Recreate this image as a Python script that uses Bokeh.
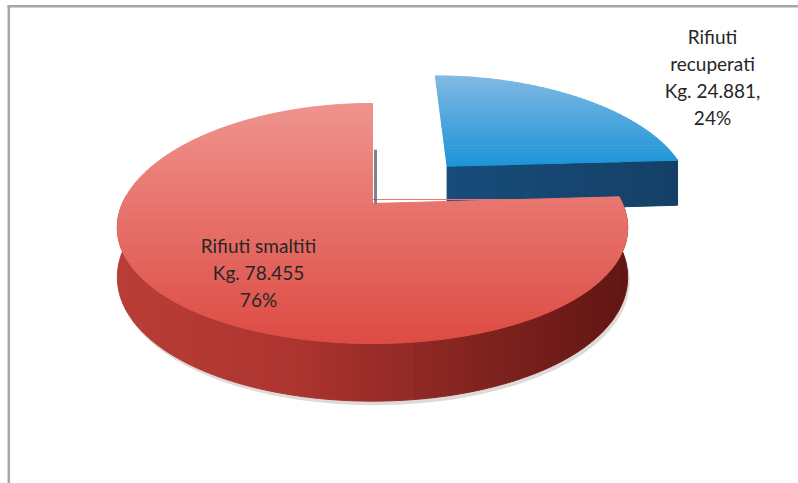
import math
from bokeh.plotting import figure
from bokeh.models import Range1d
from bokeh.core.properties import value
from bokeh.embed import file_html
from bokeh.resources import INLINE

# ---------------- data ----------------
categories = ["Rifiuti recuperati", "Rifiuti smaltiti"]
kg = [24881, 78455]
explode = [0.464, 0.0]
label_templates = [
    ["Rifiuti", "recuperati", "Kg. {kg},", "{pct}%"],
    ["Rifiuti smaltiti", "Kg. {kg}", "{pct}%"],
]

# ---------------- layout / style ----------------
W, H_FIG = 798, 483
CX, CY = 372.0, 203.0      # projected pie centre
RX, AY = 250.0, 116.7      # horizontal radius, vertical scale
KP = 0.1667                # perspective factor (vertical)
KX = 0.2                   # perspective factor (horizontal)
DEPTH = 48.0               # pie thickness
label_pos = [(712, 76), (258, 272)]
LINE_H = 27

top_colors = [((130, 186, 228), (28, 148, 214)), ((239, 148, 142), (221, 76, 68))]
side_stops = [(110, (186, 62, 56)), (300, (172, 52, 47)), (450, (136, 38, 34)), (625, (98, 22, 20))]
end_face_colors = [(24, 76, 122), (150, 40, 36)]


def proj(x, y):
    return CX + RX * x / (1.0 + KX * y), CY - AY * y / (1.0 + KP * y)


def dep(y):
    return DEPTH / (1.0 + KP * y)


def lerp(c0, c1, t):
    t = max(0.0, min(1.0, t))
    return tuple(int(round(a + (b - a) * t)) for a, b in zip(c0, c1))


def hexc(c):
    return "#%02x%02x%02x" % c


def side_color(x):
    if x <= side_stops[0][0]:
        return side_stops[0][1]
    for (x0, c0), (x1, c1) in zip(side_stops, side_stops[1:]):
        if x <= x1:
            return lerp(c0, c1, (x - x0) / (x1 - x0))
    return side_stops[-1][1]


def clip_half(poly, axis, bound, keep_greater):
    out = []
    n = len(poly)
    for i in range(n):
        cur, prev = poly[i], poly[i - 1]
        cin = cur[axis] >= bound if keep_greater else cur[axis] <= bound
        pin = prev[axis] >= bound if keep_greater else prev[axis] <= bound
        if cin != pin:
            t = (bound - prev[axis]) / (cur[axis] - prev[axis])
            out.append((prev[0] + t * (cur[0] - prev[0]), prev[1] + t * (cur[1] - prev[1])))
        if cin:
            out.append(cur)
    return out


def bands(poly, axis, nb, color_fn):
    vals = [p[axis] for p in poly]
    lo, hi = min(vals), max(vals)
    xs, ys, cols = [], [], []
    step = (hi - lo) / nb
    for i in range(nb):
        b0, b1 = lo + i * step, lo + (i + 1) * step
        piece = clip_half(poly, axis, b0 - 0.01, True)
        if len(piece) < 3:
            continue
        piece = clip_half(piece, axis, b1 + 0.01, False)
        if len(piece) < 3:
            continue
        xs.append([p[0] for p in piece])
        ys.append([p[1] for p in piece])
        cols.append(hexc(color_fn((b0 + b1) / 2, lo, hi)))
    return xs, ys, cols


total = float(sum(kg))
fracs = [v / total for v in kg]
pcts = [int(round(100 * f)) for f in fracs]

p = figure(width=W, height=H_FIG, output_backend="svg", toolbar_location=None,
           x_range=Range1d(0, W), y_range=Range1d(H_FIG, 0), min_border=0)
p.axis.visible = False
p.grid.visible = False
p.outline_line_color = None
p.background_fill_color = "white"
p.border_fill_color = "white"

# slice geometry
slices = []
a0 = 90.0
for i, f in enumerate(fracs):
    a1 = a0 - 360.0 * f
    mid = math.radians((a0 + a1) / 2)
    ox, oy = explode[i] * math.cos(mid), explode[i] * math.sin(mid)
    n = max(8, int(abs(a1 - a0)))
    angs = [math.radians(a0 + (a1 - a0) * j / n) for j in range(n + 1)]
    slices.append(dict(i=i, a0=a0, a1=a1, ox=ox, oy=oy, angs=angs))
    a0 = a1

# draw order: exploded (farther) slice first, then the other
for s in sorted(slices, key=lambda d: -d["oy"]):
    i, ox, oy, angs = s["i"], s["ox"], s["oy"], s["angs"]
    rim3 = [(ox + math.cos(t), oy + math.sin(t)) for t in angs]

    # cut faces facing the viewer
    for edge_ang, sign in ((s["a1"], 1), (s["a0"], -1)):
        t = math.radians(edge_ang)
        ny = -math.cos(t) if sign == 1 else math.cos(t)
        if ny < -0.1:
            c3 = (ox, oy)
            e3 = (ox + math.cos(t), oy + math.sin(t))
            pts = [proj(*c3), proj(*e3)]
            pts += [(pts[1][0], pts[1][1] + dep(e3[1])), (pts[0][0], pts[0][1] + dep(c3[1]))]
            c = end_face_colors[i]
            xs, ys, cols = bands(pts, 0, 20, lambda v, lo, hi, c=c: lerp(c, tuple(int(k * 0.85) for k in c), (v - lo) / max(hi - lo, 1)))
            p.patches(xs, ys, fill_color=cols, line_color=cols, line_width=1)

    # outer curved side (front part)
    front = [pt for pt, t in zip(rim3, angs) if math.sin(t) < 0.07]
    if len(front) > 2:
        top_e = [proj(*q) for q in front]
        bot_e = [(x, y + dep(q[1])) for (x, y), q in zip(top_e, front)]
        side_poly = top_e + bot_e[::-1]
        # soft shadow
        sh = [(x + 2, y + 4) for (x, y) in bot_e]
        p.patch([q[0] for q in sh] + [q[0] for q in top_e[::-1]],
                [q[1] for q in sh] + [q[1] for q in top_e[::-1]],
                fill_color="#7a6a6a", fill_alpha=0.25, line_color=None)
        xs, ys, cols = bands(side_poly, 0, 60, lambda v, lo, hi: side_color(v))
        p.patches(xs, ys, fill_color=cols, line_color=cols, line_width=1)

    # top face
    top = [proj(ox, oy)] + [proj(*q) for q in rim3]
    c0, c1 = top_colors[i]
    xs, ys, cols = bands(top, 1, 60, lambda v, lo, hi, c0=c0, c1=c1: lerp(c0, c1, (v - lo) / (hi - lo)))
    p.patches(xs, ys, fill_color=cols, line_color=cols, line_width=1)

# thin inner cut edge of the large slice
cx0, cy0 = proj(0, 0)
cx1, cy1 = proj(0, 0.5)
p.segment(x0=[cx0 + 3], y0=[cy1], x1=[cx0 + 3], y1=[cy0], line_color="#5c6274", line_width=3, line_alpha=0.8)

# chart frame (top and left border)
p.segment(x0=[7, 8.3], y0=[5.8, 5], x1=[W, 8.3], y1=[5.8, H_FIG], line_color="#a6a6a6", line_width=2.5)

# labels
tx, ty, tt = [], [], []
for i in range(len(categories)):
    lines = [l.format(kg=f"{kg[i]:,}".replace(",", "."), pct=pcts[i]) for l in label_templates[i]]
    lx, ly = label_pos[i]
    n = len(lines)
    for j, line in enumerate(lines):
        tx.append(lx)
        ty.append(ly + (j - (n - 1) / 2) * LINE_H)
        tt.append(line)
p.text(x=tx, y=ty, text=tt, text_font=value("Lato"), text_font_size="19px",
       text_align="center", text_baseline="middle", text_color="#262626")

open("out.html", "w").write(file_html(p, INLINE))
